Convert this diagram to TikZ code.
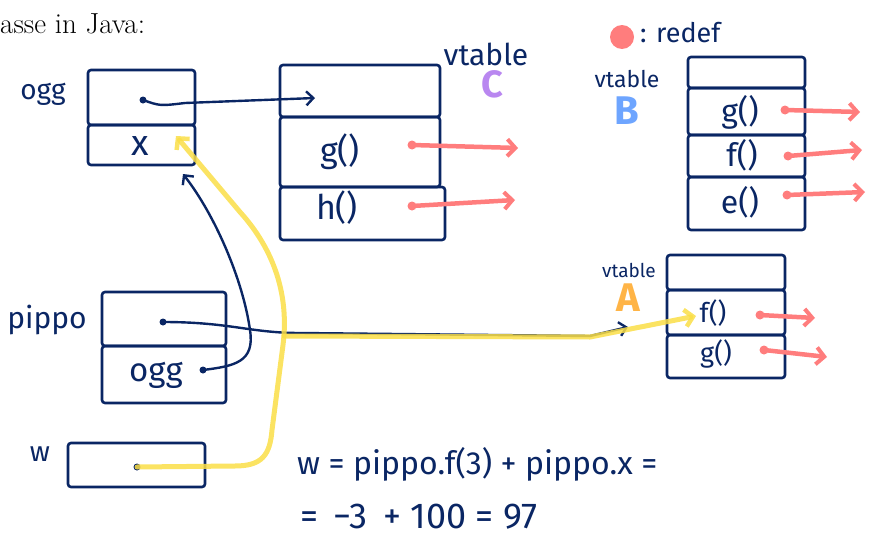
\documentclass[tikz,border=0pt]{standalone}
\usepackage{fontspec}
\newfontfamily\hand{Fira Sans}
\usetikzlibrary{arrows.meta}
\definecolor{ink}{RGB}{10,38,100}
\definecolor{redef}{RGB}{255,125,125}
\definecolor{hl}{RGB}{250,222,70}
\definecolor{cpurple}{RGB}{185,135,240}
\definecolor{bblue}{RGB}{110,165,255}
\definecolor{aorange}{RGB}{255,180,70}
\begin{document}
\begin{tikzpicture}[x=1pt,y=-1pt,
  cell/.style={draw=ink, line width=2.6pt, rounded corners=3pt, inner sep=0pt},
  lab/.style={text=ink, inner sep=0pt, font=\hand\fontsize{#1}{#1}\selectfont},
  big/.style={inner sep=0pt, font=\hand\bfseries\fontsize{#1}{#1}\selectfont},
  inkdot/.style={circle, fill=ink, inner sep=0pt, minimum size=7pt},
  rdot/.style={circle, fill=redef, inner sep=0pt, minimum size=9pt},
  inkline/.style={draw=ink, line width=2.4pt, line cap=round, line join=round},
  inkarrow/.style={inkline, -{Straight Barb[length=7pt,width=14pt,line width=2.4pt]}},
  redarrow/.style={draw=redef, line width=4.5pt, line cap=round, -{Straight Barb[length=8pt,width=17pt,line width=4pt]}},
  hlarrow/.style={draw=hl, opacity=0.85, line width=5pt, line cap=round, line join=round, -{Straight Barb[length=8pt,width=17pt,line width=4.5pt]}}
]
\useasboundingbox (0,0) rectangle (871,538);

% title fragment
\node[anchor=base west, inner sep=0pt, font=\fontsize{29}{29}\selectfont] (title) at (0,34) {asse in Java:};

% legend
\node[circle, fill=redef, inner sep=0pt, minimum size=24pt] (legdot) at (622,37) {};
\node[lab=27, anchor=west] (legtxt) at (640,33) {: redef};

% ogg object
\node[lab=28] (ogglab) at (43,94) {ogg};
\node[cell, minimum width=107pt, minimum height=55pt] (ogg1) at (141.5,97.5) {};
\node[cell, minimum width=107pt, minimum height=40pt] (ogg2) at (141.5,145) {};
\node[lab=36] (xlab) at (140,146) {x};
\node[inkdot] (oggd) at (143,100) {};

% vtable C
\node[lab=30] (vtC) at (486,54) {vtable};
\node[big=38, text=cpurple] (Clab) at (492,84) {C};
\node[cell, minimum width=160pt, minimum height=52pt] (C1) at (360,91) {};
\node[cell, minimum width=160pt, minimum height=70pt] (C2) at (360,152) {};
\node[cell, minimum width=165pt, minimum height=53pt] (C3) at (362.5,213.5) {};
\node[lab=34] (Cg) at (340,152) {g()};
\node[lab=34] (Ch) at (337,208) {h()};
\coordinate (Cin) at (315,98);
\node[rdot] (Cgr) at (412,145) {};
\coordinate (Cge) at (518,148);
\node[rdot] (Chr) at (412,206) {};
\coordinate (Che) at (515,200);

% vtable B
\node[lab=23] (vtB) at (627,79) {vtable};
\node[big=40, text=bblue] (Blab) at (627,111) {B};
\node[cell, minimum width=117pt, minimum height=31pt] (B1) at (746.5,72.5) {};
\node[cell, minimum width=117pt, minimum height=47pt] (B2) at (746.5,111.5) {};
\node[cell, minimum width=117pt, minimum height=42pt] (B3) at (746.5,156) {};
\node[cell, minimum width=117pt, minimum height=53pt] (B4) at (746.5,203.5) {};
\node[lab=32] (Bg) at (740,112) {g()};
\node[lab=32] (Bf) at (742,155) {f()};
\node[lab=32] (Be) at (740,202) {e()};
\node[rdot] (Bgr) at (785,110) {};
\coordinate (Bge) at (860,112);
\node[rdot] (Bfr) at (788,156) {};
\coordinate (Bfe) at (862,150);
\node[rdot] (Ber) at (787,195) {};
\coordinate (Bee) at (865,192);

% vtable A
\node[lab=19] (vtA) at (629,270) {vtable};
\node[big=40, text=aorange] (Alab) at (628,298) {A};
\node[cell, minimum width=118pt, minimum height=35pt] (A1) at (726,272.5) {};
\node[cell, minimum width=118pt, minimum height=45pt] (A2) at (726,312.5) {};
\node[cell, minimum width=118pt, minimum height=43pt] (A3) at (726,356.5) {};
\node[lab=27] (Af) at (713,313) {f()};
\node[lab=27] (Ag) at (716,354) {g()};
\node[rdot] (Afr) at (760,315) {};
\coordinate (Afe) at (815,318);
\node[rdot] (Agr) at (764,350) {};
\coordinate (Age) at (827,357);
\coordinate (Ain) at (628,327);
\coordinate (Ahl) at (696,316);

% pippo object
\node[lab=30] (pippolab) at (47,320) {pippo};
\node[cell, minimum width=124pt, minimum height=54pt] (P1) at (164,319) {};
\node[cell, minimum width=124pt, minimum height=57pt] (P2) at (164,374.5) {};
\node[lab=33] (Pogg) at (156,375) {ogg};
\node[inkdot] (Pd1) at (163,322) {};
\node[inkdot] (Pd2) at (203,370) {};

% w variable
\node[lab=28] (wlab) at (40,454) {w};
\node[cell, minimum width=137pt, minimum height=44pt] (W) at (136.5,465) {};
\node[inkdot] (Wd) at (137,467) {};
\coordinate (Xin) at (176,136);
\coordinate (Oin) at (183,174);

% formula
\node[lab=32, anchor=base west] (eq1) at (297,474) {w = pippo.f(3) + pippo.x =};
\node[lab=36, anchor=base west] (eq2) at (300,528) {= \,−3 \,+ 100 = 97};

% ink connectors
\draw[inkarrow] (oggd.center) .. controls (160,106) .. (185,103) -- (Cin);
\draw[inkarrow] (Pd1.center) .. controls (230,322) and (250,333) .. (300,333) -- (590,336) -- (Ain);
\draw[inkarrow] (Pd2.center) .. controls (235,366) and (255,362) .. (250,330)
   .. controls (243,280) and (215,215) .. (Oin);

% red connectors
\draw[redarrow] (Cgr.center) -- (Cge);
\draw[redarrow] (Chr.center) -- (Che);
\draw[redarrow] (Bgr.center) -- (Bge);
\draw[redarrow] (Bfr.center) -- (Bfe);
\draw[redarrow] (Ber.center) -- (Bee);
\draw[redarrow] (Afr.center) -- (Afe);
\draw[redarrow] (Agr.center) -- (Age);

% yellow highlight
\draw[hlarrow] (Wd.center) -- (235,466) .. controls (262,466) and (270,455) .. (272,430)
   -- (283,345) .. controls (290,290) and (270,245) .. (240,212) -- (Xin);
\draw[hlarrow] (284,336) -- (590,337) -- (Ahl);
\end{tikzpicture}
\end{document}
